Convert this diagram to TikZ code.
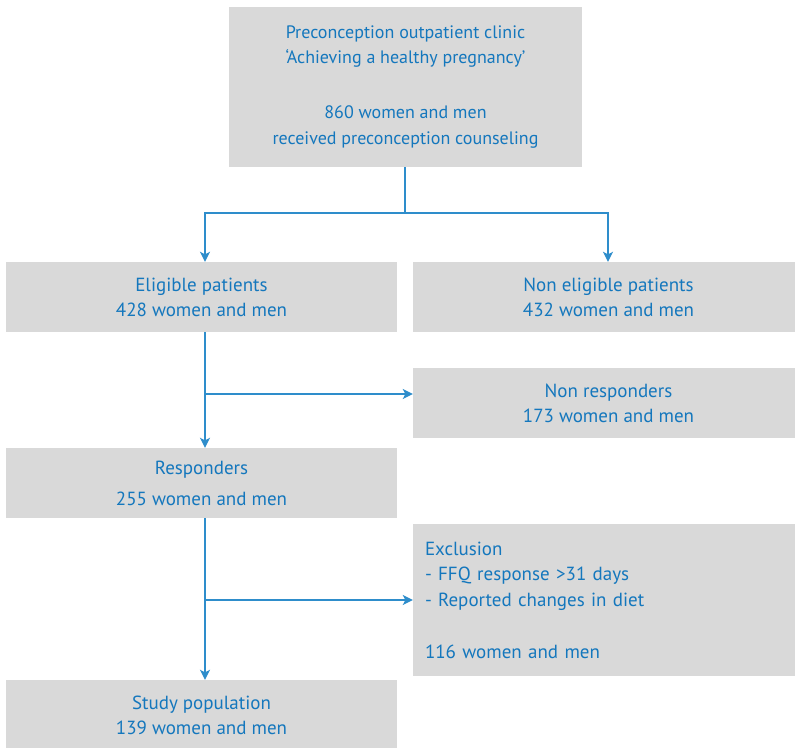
\documentclass[tikz,border=0pt]{standalone}
\usepackage{fontspec}
\setmainfont{PT Sans}
\usetikzlibrary{arrows.meta}
\definecolor{boxgray}{HTML}{D9D9D9}
\definecolor{txtblue}{HTML}{1477BD}
\definecolor{lineblue}{HTML}{2E8DCB}
\begin{document}
\begin{tikzpicture}[x=1pt,y=-1pt,
  box/.style={rectangle,fill=boxgray,draw=none,inner sep=0pt,
    text=txtblue,align=center,font=\fontsize{19}{25}\selectfont},
  flow/.style={draw=lineblue,line width=1.5pt,
    -{Stealth[length=10pt,width=10pt,inset=2.5pt]}},
  trunk/.style={draw=lineblue,line width=1.5pt}]
\useasboundingbox (0,0) rectangle (795,747);
\begin{scope}
\clip (0,0) rectangle (795,747);
% boxes
\node[box,minimum width=353pt,minimum height=160pt,
  font=\fontsize{18}{25.5}\selectfont] (clinic) at (405.5,87)
  {Preconception outpatient clinic\\
   `Achieving a healthy pregnancy'\\[29.5pt]
   860 women and men\\
   received preconception counseling};
\node[box,minimum width=391pt,minimum height=70pt] (elig) at (201.5,297)
  {Eligible patients\\428 women and men};
\node[box,minimum width=391pt,minimum height=70pt] (nonelig) at (608.5,297)
  {Non eligible patients\\432 women and men};
\node[box,minimum width=391pt,minimum height=70pt] (nonresp) at (608.5,403)
  {Non responders\\173 women and men};
\node[box,minimum width=391pt,minimum height=70pt] (resp) at (201.5,483)
  {Responders\\[6pt]255 women and men};
\node[box,minimum width=391pt,minimum height=152pt,text width=367pt,align=left,
  font=\fontsize{19}{25.5}\selectfont]
  (excl) at (608.5,600)
  {Exclusion\\
   - FFQ response >31 days\\
   - Reported changes in diet\\[26.5pt]
   116 women and men};
\node[box,minimum width=391pt,minimum height=70pt] (study) at (201.5,715)
  {Study population\\139 women and men};
\end{scope}
% connectors
\coordinate (split) at (405,213);
\coordinate (lcol) at (205,0);
\coordinate (rcol) at (608,0);
\coordinate (b1) at (205,394);
\coordinate (b2) at (205,600);
\draw[trunk] (clinic.south -| split) -- (split);
\draw[flow] (split) -| (lcol |- elig.north);
\draw[flow] (split) -| (rcol |- nonelig.north);
\draw[flow] (lcol |- elig.south) -- (lcol |- resp.north);
\draw[flow] (b1) -- (nonresp.west |- b1);
\draw[flow] (lcol |- resp.south) -- (lcol |- study.north);
\draw[flow] (b2) -- (excl.west |- b2);
\end{tikzpicture}
\end{document}
